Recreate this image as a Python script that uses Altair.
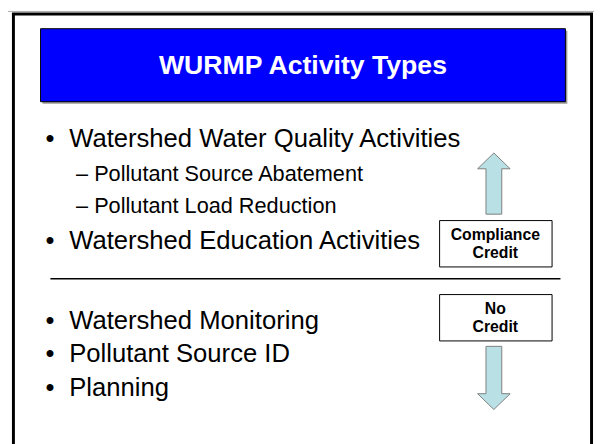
import altair as alt
import pandas as pd

# ---- content ----
title_text = ["WURMP Activity Types"]
main_items_top = ["Watershed Water Quality Activities", "Watershed Education Activities"]
sub_items = ["– Pollutant Source Abatement", "– Pollutant Load Reduction"]
main_items_bottom = ["Watershed Monitoring", "Pollutant Source ID", "Planning"]
box_labels = [["Compliance", "Credit"], ["No", "Credit"]]
arrow_dirs = ["up", "down"]

# ---- layout (page pixel coordinates) ----
W, H = 594, 436
xs = alt.Scale(domain=[8, 602], range=[0, W], nice=False, zero=False)
ys = alt.Scale(domain=[444, 8], nice=False, zero=False)
FONT = "Liberation Sans"


def X(f="x"):
    return alt.X(f"{f}:Q", scale=xs, axis=None)


def Y(f="y"):
    return alt.Y(f"{f}:Q", scale=ys, axis=None)


layers = []

# frame
frame = pd.DataFrame([
    {"x": 13.5, "x2": 13.5, "y": 10, "y2": 460},
    {"x": 599.5, "x2": 599.5, "y": 10, "y2": 460},
    {"x": 12, "x2": 601, "y": 11, "y2": 11},
])
layers.append(alt.Chart(frame).mark_rule(color="black", strokeWidth=3).encode(
    x=X(), x2="x2:Q", y=Y(), y2="y2:Q"))
layers.append(alt.Chart(pd.DataFrame([{"x": 0, "x2": 602, "y": 8.5, "y2": 8.5}])).mark_rule(
    color="#aaaaaa", strokeWidth=1).encode(x=X(), x2="x2:Q", y=Y(), y2="y2:Q"))

# title box (shadow + box)
tb = pd.DataFrame([{"x": 41, "x2": 573, "y": 26, "y2": 100}])
shadow = pd.DataFrame([{"x": 43, "x2": 575, "y": 28, "y2": 102}])
layers.append(alt.Chart(shadow).mark_rect(color="#9a9a9a").encode(
    x=X(), x2="x2:Q", y=Y(), y2="y2:Q"))
layers.append(alt.Chart(tb).mark_rect(color="#0000ff", stroke="black", strokeWidth=1).encode(
    x=X(), x2="x2:Q", y=Y(), y2="y2:Q"))
layers.append(alt.Chart(pd.DataFrame({"t": title_text, "x": [307], "y": [72]})).mark_text(
    font=FONT, fontSize=27, fontWeight="bold", color="white", align="center",
    baseline="alphabetic").encode(x=X(), y=Y(), text="t:N"))

# bullet text
main_rows = [
    (main_items_top[0], 146), (main_items_top[1], 249),
    (main_items_bottom[0], 330), (main_items_bottom[1], 364), (main_items_bottom[2], 398),
]
mdf = pd.DataFrame({"t": [r[0] for r in main_rows], "y": [r[1] for r in main_rows]})
mdf["x"] = 70
mdf["bx"] = 46
mdf["b"] = "•"
layers.append(alt.Chart(mdf).mark_text(font=FONT, fontSize=26, align="left",
    baseline="alphabetic", color="black").encode(x=X(), y=Y(), text="t:N"))
layers.append(alt.Chart(mdf).mark_text(font=FONT, fontSize=26, align="left",
    baseline="alphabetic", color="black").encode(x=X("bx"), y=Y(), text="b:N"))

sdf = pd.DataFrame({"t": sub_items, "y": [180, 213]})
sdf["x"] = 77
layers.append(alt.Chart(sdf).mark_text(font=FONT, fontSize=22, align="left",
    baseline="alphabetic", color="black").encode(x=X(), y=Y(), text="t:N"))

# separator
layers.append(alt.Chart(pd.DataFrame([{"x": 51, "x2": 568, "y": 279.5, "y2": 279.5}])).mark_rule(
    color="black", strokeWidth=1.5).encode(x=X(), x2="x2:Q", y=Y(), y2="y2:Q"))

# credit boxes
boxes = pd.DataFrame([
    {"x": 445.5, "x2": 559.5, "y": 220.5, "y2": 267.5},
    {"x": 445.5, "x2": 559.5, "y": 295.5, "y2": 342.5},
])
layers.append(alt.Chart(boxes).mark_rect(fill="white", stroke="black", strokeWidth=1).encode(
    x=X(), x2="x2:Q", y=Y(), y2="y2:Q"))
centers = [244, 319.5]
brows = []
for lab, cy in zip(box_labels, centers):
    brows.append({"t": lab[0], "x": 502, "y": cy - 9})
    brows.append({"t": lab[1], "x": 502, "y": cy + 9})
layers.append(alt.Chart(pd.DataFrame(brows)).mark_text(font=FONT, fontSize=16, fontWeight="bold",
    align="center", baseline="middle", color="black").encode(x=X(), y=Y(), text="t:N"))

# block arrows as custom symbol paths (size=4 -> 1 path unit = 1 px)
UP_PATH = "M0,-31 L16.5,-15 L8,-15 L8,31 L-8,31 L-8,-15 L-16.5,-15 Z"
DOWN_PATH = "M0,32 L16.5,16 L8,16 L8,-32 L-8,-32 L-8,16 L-16.5,16 Z"
arrows = pd.DataFrame({"d": arrow_dirs, "x": [500.5, 500.5], "y": [183, 380]})
for d, path in zip(arrow_dirs, [UP_PATH, DOWN_PATH]):
    layers.append(alt.Chart(arrows[arrows["d"] == d]).mark_point(
        shape=path, size=4, filled=True, fill="#b9e0e4", stroke="#7f7f7f",
        strokeWidth=1, opacity=1).encode(x=X(), y=Y()))

chart = alt.layer(*layers).properties(
    width=W, height=H, autosize=alt.AutoSizeParams(type="none"), padding=0,
    background="white"
).configure_view(strokeWidth=0)

chart.save("out.html", embed_options={"renderer": "svg", "actions": False})
